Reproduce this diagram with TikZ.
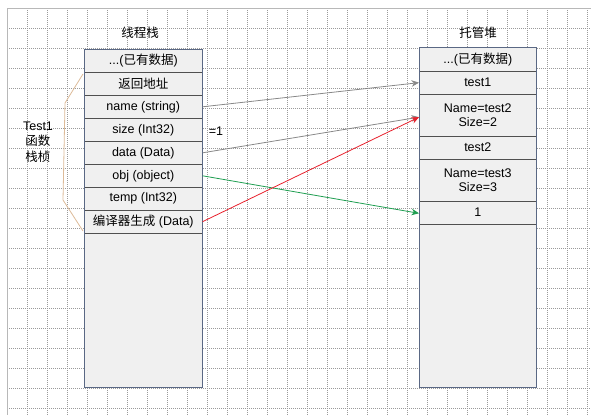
\documentclass[tikz,border=0pt]{standalone}
\usepackage{fontspec}
\setmainfont{Liberation Sans}
\newfontfamily\cjk{Noto Sans CJK SC}
\newcommand\zh[1]{{\cjk #1}}
\usetikzlibrary{arrows.meta}
\definecolor{gridc}{HTML}{9A9A9A}
\definecolor{boxfill}{HTML}{F0F0F0}
\definecolor{rowline}{HTML}{505050}
\definecolor{boxborder}{HTML}{5A6884}
\definecolor{bracec}{HTML}{DDBB99}
\definecolor{arrgray}{HTML}{888888}
\definecolor{arrred}{HTML}{E8202C}
\definecolor{arrgreen}{HTML}{1E9E50}
\tikzset{
  cell/.style={draw=rowline, fill=boxfill, line width=0.6bp, inner sep=0pt,
    font=\fontsize{12.5bp}{14bp}\selectfont, align=center},
  lcell/.style={cell, minimum width=118bp},
  rcell/.style={cell, minimum width=117bp},
  outer/.style={draw=boxborder, line width=1bp},
  title/.style={font=\fontsize{12.5bp}{14bp}\selectfont, inner sep=0pt},
  lbl/.style={font=\fontsize{12.5bp}{15.5bp}\selectfont, inner sep=0pt, align=center},
  conn/.style={line width=0.8bp, -{Stealth[length=7.5bp,width=6.5bp]}},
  gridline/.style={gridc, dash pattern=on 1bp off 1bp, line width=0.7bp},
}
\begin{document}
\begin{tikzpicture}[x=1bp,y=-1bp]
\useasboundingbox (0,0) rectangle (591,415);
\fill[white] (0,0) rectangle (591,415);
% grid
\foreach \i in {0,...,29} { \draw[gridline] (7+20*\i,8) -- (7+20*\i,415); }
\foreach \j in {0,...,20} { \draw[gridline] (7,8+20*\j) -- (591,8+20*\j); }
\draw[gridc!70, line width=0.6bp] (7,8) -- (591,8);
\draw[gridc!70, line width=0.6bp] (7,8) -- (7,415);

% titles
\node[title] (tl) at (140,33) {\zh{线程栈}};
\node[title] (tr) at (478,33) {\zh{托管堆}};

% left stack
\fill[boxfill] (84.3,49.3) rectangle (202.3,387);
\node[lcell, minimum height=22.7bp] (l0) at (143.3,60.65) {...(\zh{已有数据})};
\node[lcell, minimum height=23.3bp] (l1) at (143.3,83.65) {\zh{返回地址}};
\node[lcell, minimum height=23bp] (l2) at (143.3,106.8) {name (string)};
\node[lcell, minimum height=23bp] (l3) at (143.3,129.8) {size (Int32)};
\node[lcell, minimum height=23bp] (l4) at (143.3,152.8) {data (Data)};
\node[lcell, minimum height=23bp] (l5) at (143.3,175.8) {obj (object)};
\node[lcell, minimum height=22.7bp] (l6) at (143.3,198.65) {temp (Int32)};
\node[lcell, minimum height=23.3bp] (l7) at (143.3,221.65) {\zh{编译器生成} (Data)};
\draw[outer] (84.3,49.3) rectangle (202.3,387);

% right heap
\fill[boxfill] (419.3,47.7) rectangle (536.3,387);
\node[rcell, minimum height=23.3bp] (r0) at (477.8,59.35) {...(\zh{已有数据})};
\node[rcell, minimum height=23.3bp] (r1) at (477.8,82.65) {test1};
\node[rcell, minimum height=41.7bp] (r2) at (477.8,115.15) {Name=test2\\Size=2};
\node[rcell, minimum height=23.3bp] (r3) at (477.8,147.65) {test2};
\node[rcell, minimum height=41.7bp] (r4) at (477.8,180.15) {Name=test3\\Size=3};
\node[rcell, minimum height=23bp] (r5) at (477.8,212.5) {1};
\draw[outer] (419.3,47.7) rectangle (536.3,387);

% brace and label
\coordinate (b0) at (83,74);
\coordinate (b1) at (65,103);
\coordinate (b2) at (63,200);
\coordinate (b3) at (83,231);
\draw[bracec, line width=0.8bp] (b0) -- (b1) -- (b2) -- (b3);
\node[lbl] (fl) at (38,142) {Test1\\\zh{函数}\\\zh{栈桢}};
\node[lbl] (eq) at (216,131) {=1};

% connectors
\draw[conn, arrgray] (l2.east) -- (r1.west);
\draw[conn, arrgray] (l4.east) -- ([yshift=-2bp]r2.west);
\draw[conn, arrgreen] (l5.east) -- ([yshift=-0.8bp]r5.west);
\draw[conn, arrred] (l7.east) -- ([yshift=-2bp]r2.west);
\end{tikzpicture}
\end{document}
